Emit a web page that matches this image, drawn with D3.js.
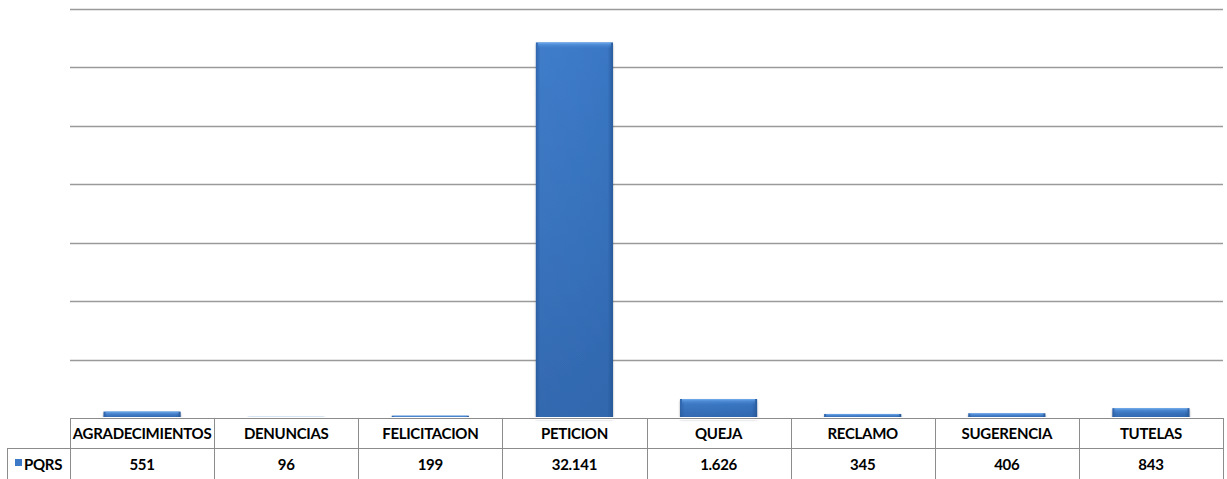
<!DOCTYPE html>
<html>
<head>
<meta charset="utf-8">
<script src="https://cdn.jsdelivr.net/npm/d3@7"></script>
<style>
  html, body { margin: 0; padding: 0; background: #ffffff; }
  svg { display: block; }
  text { font-family: Lato, "Open Sans", sans-serif; font-weight: bold; fill: #000; letter-spacing: -0.3px; }
</style>
</head>
<body>
<svg id="chart" width="1227" height="479"></svg>
<script>
// PQRS counts per request type
const categories = ["AGRADECIMIENTOS", "DENUNCIAS", "FELICITACION", "PETICION", "QUEJA", "RECLAMO", "SUGERENCIA", "TUTELAS"];
const values = [551, 96, 199, 32141, 1626, 345, 406, 843];
const valueLabels = ["551", "96", "199", "32.141", "1.626", "345", "406", "843"];
const seriesName = "PQRS";
const yTicks = [5000, 10000, 15000, 20000, 25000, 30000, 35000];

const svg = d3.select("#chart");
const plotLeft = 70, plotRight = 1223, plotTop = 9, base = 418;
const rowH = 30;
const fontSize = 15;

const x = d3.scaleBand().domain(categories).range([plotLeft, plotRight]).padding(0);
const y = d3.scaleLinear().domain([0, 35000]).range([base, plotTop]);
const barW = x.bandwidth() * 0.535;

// gradients for the bevelled bars
const defs = svg.append("defs");
const hg = defs.append("linearGradient").attr("id", "barH").attr("x1", 0).attr("x2", 1).attr("y1", 0).attr("y2", 0);
[[0, "#2f65ac"], [0.06, "#3f7cc9"], [0.5, "#3c7ac8"], [0.93, "#3a77c4"], [1, "#2a5c9e"]]
  .forEach(([o, c]) => hg.append("stop").attr("offset", o).attr("stop-color", c));
const vg = defs.append("linearGradient").attr("id", "barV").attr("x1", 0).attr("x2", 0).attr("y1", 0).attr("y2", 1);
[[0, "#78b2f0", 0.95], [0.35, "#5e9be4", 0.6], [1, "#4a88d6", 0]]
  .forEach(([o, c, a]) => vg.append("stop").attr("offset", o).attr("stop-color", c).attr("stop-opacity", a));
const bg = defs.append("linearGradient").attr("id", "barB").attr("x1", 0).attr("x2", 0).attr("y1", 0).attr("y2", 1);
[[0, "#2a5a9a", 0], [1, "#24528f", 0.45]]
  .forEach(([o, c, a]) => bg.append("stop").attr("offset", o).attr("stop-color", c).attr("stop-opacity", a));
const sh = defs.append("filter").attr("id", "shadow").attr("x", "-10%").attr("y", "-10%").attr("width", "120%").attr("height", "130%");
sh.append("feDropShadow").attr("dx", 0).attr("dy", 1.5).attr("stdDeviation", 1.2).attr("flood-color", "#000").attr("flood-opacity", 0.35);

// horizontal gridlines
svg.append("g").selectAll("line").data(yTicks).join("line")
  .attr("x1", plotLeft).attr("x2", plotRight)
  .attr("y1", d => Math.round(y(d)) + 0.5).attr("y2", d => Math.round(y(d)) + 0.5)
  .attr("stroke", "#9a9a9a").attr("stroke-width", 1.6);

// bars
const bars = svg.append("g").selectAll("g").data(values).join("g")
  .attr("filter", "url(#shadow)");
bars.append("rect")
  .attr("x", (d, i) => x(categories[i]) + (x.bandwidth() - barW) / 2)
  .attr("y", d => y(d)).attr("width", barW).attr("height", d => base - y(d))
  .attr("fill", "url(#barH)");
bars.append("rect")
  .attr("x", (d, i) => x(categories[i]) + (x.bandwidth() - barW) / 2 + 2)
  .attr("y", d => y(d)).attr("width", barW - 4).attr("height", d => Math.min(6, base - y(d)))
  .attr("fill", "url(#barV)");
bars.append("rect")
  .attr("x", (d, i) => x(categories[i]) + (x.bandwidth() - barW) / 2)
  .attr("y", d => y(d)).attr("width", barW).attr("height", d => base - y(d))
  .attr("fill", "url(#barB)");

// data table
const grid = "#8c8c8c";
const t = svg.append("g").attr("stroke", grid).attr("stroke-width", 1).attr("shape-rendering", "crispEdges");
t.append("rect").attr("x", plotLeft).attr("y", base - 1).attr("width", plotRight - plotLeft).attr("height", 3)
  .attr("fill", "#ffffff").attr("stroke", "none");
t.append("line").attr("x1", plotLeft).attr("x2", plotRight).attr("y1", base + 0.5).attr("y2", base + 0.5);
t.append("line").attr("x1", 7).attr("x2", plotRight).attr("y1", base + rowH + 0.5).attr("y2", base + rowH + 0.5);
t.append("line").attr("x1", 7.5).attr("x2", 7.5).attr("y1", base + rowH).attr("y2", 479);
t.selectAll(".v").data(categories.concat(["end"])).join("line")
  .attr("x1", (d, i) => Math.round(plotLeft + i * x.bandwidth()) + 0.5)
  .attr("x2", (d, i) => Math.round(plotLeft + i * x.bandwidth()) + 0.5)
  .attr("y1", base).attr("y2", 479);

svg.append("g").selectAll("text").data(categories).join("text")
  .attr("x", d => x(d) + x.bandwidth() / 2).attr("y", base + 21)
  .attr("text-anchor", "middle").attr("font-size", fontSize)
  .text(d => d)
  .each(function () {
    const w = this.getComputedTextLength();
    if (w > x.bandwidth() - 3) d3.select(this).attr("textLength", x.bandwidth() - 3).attr("lengthAdjust", "spacingAndGlyphs");
  });

svg.append("g").selectAll("text").data(valueLabels).join("text")
  .attr("x", (d, i) => x(categories[i]) + x.bandwidth() / 2).attr("y", base + rowH + 22)
  .attr("text-anchor", "middle").attr("font-size", fontSize)
  .text(d => d);

// series key
svg.append("rect").attr("x", 15).attr("y", 459).attr("width", 7).attr("height", 7).attr("fill", "#3c7ac8");
svg.append("text").attr("x", 24).attr("y", base + rowH + 22).attr("font-size", fontSize).text(seriesName);
</script>
</body>
</html>
